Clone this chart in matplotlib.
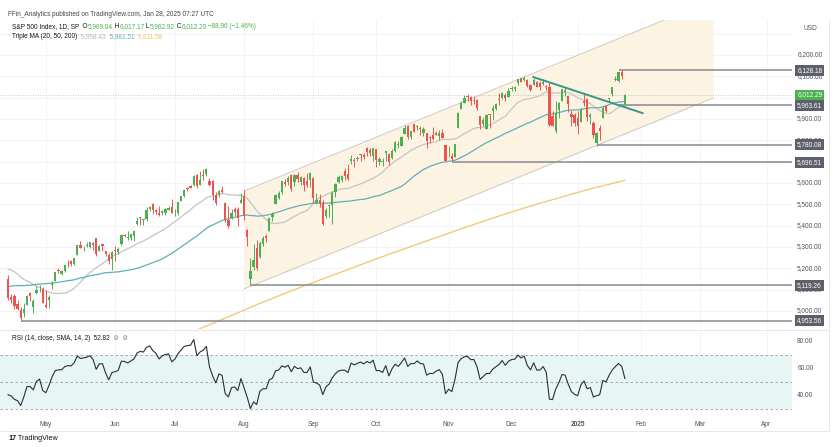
import numpy as np
import pandas as pd
import matplotlib
matplotlib.use('Agg')
import matplotlib.pyplot as plt
from matplotlib.lines import Line2D
from matplotlib.transforms import blended_transform_factory

plt.rcParams['font.family'] = ['Liberation Sans', 'DejaVu Sans']

# closes Feb 1 - Apr 12 2024, not drawn, only to warm up the MAs and the RSI
warmup_close = [4906, 4959, 4943, 4954, 4995, 4998, 5027, 5022, 4953, 5001,
                5030, 5006, 4976, 4982, 5087, 5089, 5070, 5078, 5070, 5096,
                5137, 5131, 5079, 5105, 5157, 5124, 5118, 5175, 5165, 5150,
                5117, 5149, 5179, 5225, 5242, 5234, 5218, 5204, 5248, 5254,
                5244, 5206, 5211, 5147, 5204, 5202, 5210, 5161, 5199, 5123]

# S&P 500 daily bars, Apr 15 2024 - Jan 27 2025
opens = [5149, 5064, 5068, 5031, 5005, 4988, 5029, 5085, 5019, 5085, 5115, 5104,
         5029, 5050, 5123, 5142, 5188, 5173, 5189, 5226, 5233, 5222, 5264, 5310, 5303, 5305, 5299, 5319, 5340, 5282, 5315, 5279, 5260, 5244,
         5284, 5278, 5314, 5358, 5343, 5341, 5353, 5409, 5441, 5424, 5431, 5477, 5500, 5471, 5459, 5460, 5461, 5474, 5488,
         5471, 5461, 5513, 5537, 5573, 5585, 5591, 5636, 5591, 5638, 5644, 5610, 5609, 5543, 5544, 5566, 5505, 5428, 5434, 5477, 5479, 5505,
         5538, 5377, 5151, 5206, 5293, 5252, 5314, 5353, 5376, 5442, 5501, 5530, 5558, 5603, 5606, 5637, 5603, 5639, 5603, 5624, 5607, 5613,
         5624, 5507, 5521, 5507, 5443, 5491, 5496, 5558, 5603, 5616, 5655, 5641, 5703, 5709, 5711, 5733, 5733, 5762, 5756, 5727,
         5758, 5698, 5698, 5738, 5737, 5719, 5751, 5778, 5775, 5829, 5866, 5817, 5876, 5860, 5857, 5833, 5834, 5817, 5827, 5833, 5819, 5833, 5776,
         5724, 5725, 5723, 5859, 5947, 5977, 6009, 6003, 5986, 5990, 5912, 5874, 5855, 5924, 5935, 5948, 5992, 6000, 6014, 6003,
         6040, 6042, 6069, 6090, 6081, 6083, 6057, 6060, 6074, 6068, 6063, 6053, 6048, 5913, 5843, 5941, 5985, 6025, 6006, 5921, 5920,
         5903, 5888, 5982, 5994, 5910, 5882, 5789, 5859, 5905, 5960, 5995, 6015, 6081, 6077, 6121, 5969]
highs = [5168, 5079, 5077, 5052, 5019, 5039, 5076, 5089, 5058, 5115, 5123, 5110,
         5096, 5073, 5139, 5181, 5200, 5192, 5215, 5240, 5238, 5250, 5311, 5326, 5305, 5325, 5324, 5323, 5342, 5311, 5316, 5282, 5270, 5280,
         5302, 5298, 5355, 5362, 5376, 5365, 5376, 5442, 5442, 5432, 5488, 5490, 5506, 5478, 5490, 5472, 5483, 5490, 5524,
         5480, 5510, 5540, 5571, 5583, 5591, 5635, 5642, 5655, 5666, 5669, 5622, 5614, 5558, 5568, 5585, 5509, 5492, 5480, 5487, 5489, 5551,
         5567, 5383, 5250, 5312, 5331, 5326, 5351, 5361, 5436, 5463, 5546, 5563, 5609, 5620, 5633, 5643, 5641, 5651, 5631, 5627, 5646, 5651,
         5626, 5552, 5546, 5522, 5484, 5501, 5560, 5600, 5636, 5637, 5670, 5690, 5733, 5716, 5725, 5736, 5742, 5768, 5764, 5765,
         5758, 5720, 5718, 5752, 5739, 5758, 5796, 5795, 5822, 5871, 5870, 5845, 5878, 5872, 5866, 5863, 5834, 5818, 5862, 5843, 5848, 5851, 5780,
         5772, 5742, 5784, 5933, 5983, 6012, 6018, 6008, 6009, 5994, 5916, 5909, 5925, 5925, 5964, 5973, 6020, 6025, 6020, 6044,
         6053, 6053, 6086, 6092, 6100, 6088, 6065, 6093, 6079, 6078, 6085, 6057, 6071, 5935, 5982, 5978, 6041, 6049, 6006, 5941, 5929,
         5935, 5949, 6021, 6000, 5928, 5891, 5837, 5871, 5960, 5964, 6000, 6052, 6100, 6119, 6128, 6017]
lows = [5052, 5039, 5008, 5002, 4954, 4969, 5027, 5047, 4990, 5078, 5089, 5035,
        5013, 5012, 5102, 5142, 5178, 5169, 5180, 5207, 5211, 5217, 5263, 5296, 5283, 5300, 5297, 5286, 5257, 5279, 5281, 5255, 5222, 5191,
        5234, 5265, 5311, 5346, 5331, 5331, 5327, 5403, 5403, 5404, 5421, 5468, 5455, 5452, 5447, 5448, 5451, 5471, 5460,
        5447, 5451, 5513, 5533, 5563, 5574, 5587, 5575, 5590, 5614, 5631, 5584, 5522, 5497, 5534, 5555, 5419, 5390, 5431, 5444, 5398, 5505,
        5424, 5302, 5119, 5194, 5193, 5250, 5303, 5322, 5376, 5420, 5501, 5526, 5550, 5585, 5591, 5560, 5586, 5602, 5590, 5560, 5583, 5581,
        5504, 5503, 5486, 5402, 5434, 5442, 5406, 5536, 5598, 5604, 5614, 5615, 5687, 5674, 5704, 5702, 5714, 5727, 5727, 5703,
        5675, 5684, 5680, 5703, 5683, 5714, 5746, 5764, 5775, 5829, 5804, 5807, 5840, 5846, 5824, 5822, 5762, 5785, 5799, 5824, 5803, 5810, 5703,
        5723, 5697, 5723, 5859, 5946, 5977, 5986, 5966, 5970, 5942, 5854, 5866, 5853, 5856, 5893, 5944, 5964, 5993, 5985, 6003,
        6033, 6033, 6061, 6073, 6079, 6048, 6029, 6059, 6051, 6036, 6059, 6036, 5867, 5866, 5832, 5903, 5982, 6007, 5932, 5868, 5869,
        5830, 5888, 5960, 5890, 5874, 5809, 5773, 5803, 5905, 5931, 5979, 6007, 6076, 6075, 6088, 5963]
closes = [5061, 5051, 5022, 5011, 4967, 5010, 5071, 5072, 5048, 5100, 5116, 5036,
          5018, 5064, 5128, 5181, 5187, 5188, 5214, 5223, 5221, 5247, 5308, 5297, 5303, 5308, 5321, 5307, 5268, 5305, 5306, 5267, 5235, 5278,
          5283, 5291, 5354, 5353, 5347, 5361, 5375, 5421, 5434, 5432, 5473, 5487, 5473, 5465, 5448, 5469, 5478, 5482, 5460,
          5475, 5509, 5537, 5567, 5572, 5577, 5633, 5585, 5615, 5631, 5667, 5589, 5545, 5505, 5564, 5556, 5427, 5399, 5459, 5464, 5436, 5522,
          5446, 5347, 5186, 5240, 5199, 5319, 5344, 5344, 5435, 5455, 5543, 5554, 5608, 5597, 5621, 5571, 5635, 5617, 5626, 5592, 5592, 5648,
          5529, 5520, 5503, 5408, 5471, 5496, 5554, 5596, 5626, 5634, 5634, 5618, 5714, 5703, 5719, 5732, 5722, 5745, 5738, 5762,
          5709, 5710, 5700, 5751, 5696, 5751, 5792, 5780, 5815, 5859, 5815, 5842, 5841, 5865, 5853, 5851, 5797, 5809, 5808, 5823, 5832, 5813, 5705,
          5728, 5712, 5782, 5929, 5973, 5996, 6001, 5984, 5985, 5949, 5871, 5894, 5917, 5917, 5949, 5969, 5987, 6021, 5999, 6032,
          6047, 6050, 6086, 6075, 6090, 6053, 6034, 6084, 6051, 6051, 6074, 6050, 5872, 5867, 5930, 5974, 6040, 6037, 5971, 5907, 5882,
          5869, 5942, 5975, 5909, 5918, 5827, 5836, 5843, 5950, 5937, 5997, 6049, 6086, 6119, 6101, 6012]

# 200-day MA (bar index, value)
ma200_idx = [40, 50, 60, 70, 80, 90, 100, 110, 120, 134, 145, 155, 165, 175, 185, 196]
ma200_val = [4800, 4858, 4911, 4972, 5035, 5094, 5150, 5205, 5260, 5333, 5390, 5440, 5487, 5530, 5572, 5612]

# month labels and trading days per month (Apr 2024 partial ... Mar 2025)
month_names = ['May', 'Jun', 'Jul', 'Aug', 'Sep', 'Oct', 'Nov', 'Dec', '2025', 'Feb', 'Mar', 'Apr']
month_days = [12, 22, 19, 22, 22, 20, 23, 20, 21, 20, 19, 21]

# drawings on the chart
levels = [6128.18, 5963.61, 5780.08, 5696.51, 5119.26, 4953.56]
level_from = [194, 194, 187, 141, 77, 4]
last_price = 6012.29
chan_x = [75, 224]
chan_low = [5103, 5998]
chan_up = [5562, 6457]
trend_x = [166.8, 201.7]
trend_y = [6097, 5927]

# 6,000 and 5,700 sit under the price badges, so they are not printed
price_ticks = [6200, 6100, 5900, 5800, 5600, 5500, 5400, 5300, 5200, 5100, 5000]
rsi_ticks = [80, 60, 40]

green = '#4caf50'
red = '#ef5350'
dark = '#131722'
axis_txt = '#50535e'
grid = '#f2f3f5'
teal = '#5fb0b7'
orange = '#f5c46a'
fs = 4.7

# indicators
n_warm = len(warmup_close)
allc = pd.Series(warmup_close + closes, dtype=float)
ma20 = allc.rolling(20).mean().values[n_warm:]
ma50 = allc.rolling(50).mean().values[n_warm:]
d = allc.diff()
gain = d.clip(lower=0).ewm(alpha=1 / 14, adjust=False).mean()
loss = (-d.clip(upper=0)).ewm(alpha=1 / 14, adjust=False).mean()
rsi = (100 - 100 / (1 + gain / loss)).values[n_warm:]

W, H = 838, 447
def fx(px):
    return px / W
def fy(py):
    return 1 - py / H

fig = plt.figure(figsize=(W / 100, H / 100), dpi=100)
ax = fig.add_axes([0, fy(329), fx(792), fy(20) - fy(329)])
axr = fig.add_axes([0, fy(415), fx(792), fy(331) - fy(415)])

xmin, xmax = -2.57, 249.1
month_pos = list(np.cumsum(month_days))  # first bar of each labelled month

for a in (ax, axr):
    a.set_xlim(xmin, xmax)
    a.set_xticks([])
    a.set_yticks([])
    a.patch.set_visible(False)
    for s in a.spines.values():
        s.set_visible(False)
    for m in month_pos:
        a.axvline(m, color=grid, lw=0.7, zorder=0)

ax.set_ylim(4915, 6364)
for p in range(5000, 6400, 100):
    ax.axhline(p, color=grid, lw=0.7, zorder=0)

# parallel channel
ax.fill_between(chan_x, chan_low, chan_up, color='#fdf3e3', zorder=0.5, lw=0)
ax.plot(chan_x, chan_low, color='#cfc9bf', lw=0.7, zorder=1)
ax.plot(chan_x, chan_up, color='#cfc9bf', lw=0.7, zorder=1)

# moving averages
x = np.arange(len(closes))
ax.plot(x, ma20, color='#c4c4c4', lw=0.9, zorder=2)
ax.plot(x, ma50, color=teal, lw=0.9, zorder=2)
ax.plot(ma200_idx, ma200_val, color=orange, lw=0.9, zorder=2)

# candles
o = np.array(opens, float)
h = np.array(highs, float)
l = np.array(lows, float)
c = np.array(closes, float)
col = np.where(c >= o, green, red)
ax.vlines(x, l, h, colors=col, lw=0.7, zorder=3)
ax.bar(x, np.maximum(np.abs(c - o), 2.5), bottom=np.minimum(o, c), width=0.72,
       color=col, lw=0, zorder=4)

# horizontal levels and trend line
ax.axhline(last_price, color=green, lw=0.6, ls=(0, (1, 2)), alpha=0.6, zorder=1)
for lv, s in zip(levels, level_from):
    ax.hlines(lv, s, xmax, color='#868993', lw=1.1, zorder=5)
ax.plot(trend_x, trend_y, color='#3b968a', lw=1.4, zorder=6, solid_capstyle='round')

# price scale
tr = blended_transform_factory(ax.transAxes, ax.transData)
for p in price_ticks:
    ax.text(1.0065, p, f'{p:,.2f}', transform=tr, fontsize=fs, color=axis_txt,
            va='center', ha='left', clip_on=False, zorder=7)
for lv in levels:
    ax.text(1.0065, lv, f'{lv:,.2f}', transform=tr, fontsize=fs, color='white',
            va='center', ha='left', clip_on=False, zorder=10,
            bbox=dict(boxstyle='square,pad=0.3', fc='#5d606b', ec='none'))
ax.text(1.0065, last_price, f'{last_price:,.2f}', transform=tr, fontsize=fs, color='white',
        va='center', ha='left', clip_on=False, zorder=10,
        bbox=dict(boxstyle='square,pad=0.3', fc=green, ec='none'))
fig.text(fx(803), fy(28), 'USD', fontsize=fs, color=axis_txt, va='center')

# RSI pane
axr.set_ylim(25.8, 88)
axr.fill_between([xmin, xmax], 30, 70, color='#e8f5f5', lw=0, zorder=0.5)
for lv in (70, 50, 30):
    axr.axhline(lv, color='#9a9ca3', lw=0.6, ls=(0, (3, 3)), zorder=1)
axr.plot(x, rsi, color='#2a2e39', lw=0.8, zorder=3)
trr = blended_transform_factory(axr.transAxes, axr.transData)
for v in rsi_ticks:
    axr.text(1.0065, v, f'{v:.2f}', transform=trr, fontsize=fs, color=axis_txt,
             va='center', ha='left', clip_on=False)

# time scale
trx = blended_transform_factory(axr.transData, axr.transAxes)
for m, name in zip(month_pos, month_names):
    axr.text(m, -0.11, name, transform=trx, fontsize=fs, color=axis_txt, ha='center', va='center',
             fontweight='bold' if name == '2025' else 'normal', clip_on=False)

# frame lines
for yy in (330, 431):
    fig.add_artist(Line2D([0, fx(829)], [fy(yy), fy(yy)], color='#e6e7ea', lw=0.7))
fig.add_artist(Line2D([fx(829), fx(829)], [fy(20), fy(431)], color='#e6e7ea', lw=0.7))


def chain_text(host, x0, y0, parts, size=fs, weight='normal'):
    t = fig.text(x0, y0, parts[0][0], color=parts[0][1], fontsize=size, va='center',
                 fontweight=weight)
    for s, cc in parts[1:]:
        t = host.annotate(s, xy=(1, 0), xycoords=t, color=cc, fontsize=size,
                          va='bottom', annotation_clip=False, clip_on=False, zorder=20)
    return t


fig.text(fx(8), fy(14), 'FFin_Analytics published on TradingView.com, Jan 28, 2025 07:27 UTC',
         fontsize=fs, color='#42454f', va='center')
chain_text(ax, fx(12), fy(27), [('S&P 500 Index, 1D, SP', dark), ('  O', dark), ('5,969.04', green),
                                (' H', dark), ('6,017.17', green), (' L', dark), ('5,962.92', green),
                                (' C', dark), ('6,012.29', green), (' \u221288.96 (\u22121.46%)', green)])
chain_text(ax, fx(12), fy(37), [('Triple MA (20, 50, 200)', dark), ('  5,958.43', '#b5b5b5'),
                                ('  5,981.51', teal), ('  5,611.58', orange)])
chain_text(axr, fx(12), fy(339), [('RSI (14, close, SMA, 14, 2)', dark), ('  52.82', dark),
                                  ('  \u2298  \u2298', '#777a82')])

# logo
chain_text(axr, fx(8), fy(438), [('17', dark), (' TradingView', dark)], size=5.2, weight='bold')

fig.savefig('out.png', dpi=100)
